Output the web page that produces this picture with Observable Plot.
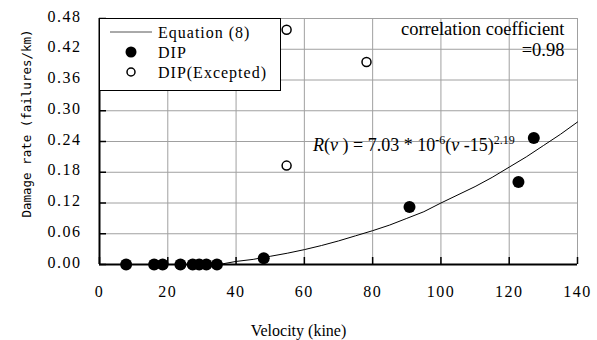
<!DOCTYPE html>
<html><head><meta charset="utf-8">
<script src="https://cdn.jsdelivr.net/npm/d3@7"></script>
<script src="https://cdn.jsdelivr.net/npm/@observablehq/plot@0.6"></script>
<style>
body{margin:0;background:#fff;}
g[aria-label="x-axis tick label"] text, g[aria-label="y-axis tick label"] text {letter-spacing:1.5px;}
</style></head><body><div id="chart"></div>
<script>
const xTicks = [0, 20, 40, 60, 80, 100, 120, 140];
const yTicks = [0, 0.06, 0.12, 0.18, 0.24, 0.30, 0.36, 0.42, 0.48];
const dipV = [7.8, 16.0, 18.5, 23.7, 27.3, 29.2, 31.3, 34.4, 48.1, 90.8, 122.7, 127.2];
const dipR = [0, 0, 0, 0, 0, 0, 0, 0, 0.012, 0.112, 0.161, 0.247];
const excV = [54.8, 54.8, 78.2];
const excR = [0.193, 0.458, 0.395];
const curveV = [35, 40, 45, 50, 55, 60, 65, 70, 75, 80, 85, 90, 95, 100, 105, 110, 115, 120, 125, 130, 135, 140];
const curveR = [0, 0.006, 0.010, 0.016, 0.022, 0.029, 0.037, 0.046, 0.056, 0.066, 0.077, 0.090, 0.103, 0.120, 0.136, 0.152, 0.170, 0.190, 0.210, 0.232, 0.254, 0.278];
const legendLabels = ["Equation (8)", "DIP", "DIP(Excepted)"];
const xLabel = "Velocity (kine)";
const yLabel = "Damage rate (failures/km)";
const corrText = "correlation coefficient\n=0.98";

const dip = dipV.map((v, i) => ({v, r: dipR[i]}));
const exc = excV.map((v, i) => ({v, r: excR[i]}));
const curve = curveV.map((v, i) => ({v, r: curveR[i]}));

const serif = "Liberation Serif";
const mono = "DejaVu Sans Mono";
const gridColor = "#a0a0a0";

const plot = Plot.plot({
  width: 597, height: 340,
  marginLeft: 99, marginRight: 20, marginTop: 18, marginBottom: 76,
  style: {fontFamily: serif, background: "#fff", color: "#000"},
  x: {domain: [0, 140], ticks: xTicks, label: null},
  y: {domain: [0, 0.48], ticks: yTicks, label: null},
  marks: [
    Plot.gridX(xTicks.slice(1, -1), {stroke: gridColor, strokeOpacity: 1}),
    Plot.gridY(yTicks.slice(1, -1), {stroke: gridColor, strokeOpacity: 1}),
    Plot.ruleY([0.48], {stroke: gridColor}),
    Plot.ruleX([140], {stroke: gridColor}),
    Plot.axisX({ticks: xTicks, tickSize: -7, text: null, strokeWidth: 1.5}),
    Plot.axisY({ticks: yTicks, tickSize: -7, text: null, strokeWidth: 1.5}),
    Plot.axisX({ticks: xTicks, tickSize: 0, tickPadding: 21, fontSize: 16, fontFamily: serif, tickFormat: d => d}),
    Plot.axisY({ticks: yTicks, tickSize: 0, tickPadding: 18, fontSize: 16, fontFamily: serif, dy: -2, tickFormat: d3.format(".2f")}),
    Plot.ruleX([0], {stroke: "#000", strokeWidth: 2}),
    Plot.ruleY([0], {stroke: "#000", strokeWidth: 2}),
    Plot.line(curve, {x: "v", y: "r", stroke: "#000", strokeWidth: 1}),
    Plot.dot(exc, {x: "v", y: "r", r: 4.5, fill: "#fff", stroke: "#000", strokeWidth: 1.5}),
    Plot.dot(dip, {x: "v", y: "r", r: 6, fill: "#000", stroke: "none"}),
    Plot.text([corrText], {frameAnchor: "top-right", textAnchor: "end", lineAnchor: "top", dx: -13, dy: 2, fontSize: 18.5, fontFamily: serif, lineHeight: 1.13, fill: "#000"}),
    Plot.text([xLabel], {frameAnchor: "bottom", textAnchor: "middle", lineAnchor: "middle", dx: -40, dy: 66, fontSize: 16, fontFamily: serif, fill: "#000"}),
    Plot.text([yLabel], {frameAnchor: "left", textAnchor: "middle", lineAnchor: "middle", rotate: -90, dx: -73, dy: -18, fontSize: 12.5, fontFamily: mono, fill: "#000"})
  ]
});

const svg = d3.select(plot);
const xs = plot.scale("x"), ys = plot.scale("y");
// equation annotation
const eq = svg.append("text")
  .attr("x", xs.apply(62.7)).attr("y", ys.apply(0.220))
  .attr("text-anchor", "start")
  .attr("font-family", serif).attr("font-size", 18).attr("fill", "#000");
eq.append("tspan").attr("font-style", "italic").text("R");
eq.append("tspan").text("(");
eq.append("tspan").attr("font-style", "italic").text("v");
eq.append("tspan").text(" ) = 7.03 * 10");
eq.append("tspan").attr("dy", -7).attr("font-size", 12).text("-6");
eq.append("tspan").attr("dy", 7).text("(");
eq.append("tspan").attr("font-style", "italic").text("v");
eq.append("tspan").text(" -15)");
eq.append("tspan").attr("dy", -7).attr("font-size", 12).text("2.19");

// legend box
const lx = 99, ly = 18;
const lg = svg.append("g").attr("font-family", serif).attr("font-size", 16)
  .attr("letter-spacing", "1px").attr("text-anchor", "start");
lg.append("rect").attr("x", lx + 0.5).attr("y", ly + 0.5).attr("width", 181).attr("height", 72)
  .attr("fill", "#fff").attr("stroke", "#000").attr("stroke-width", 1);
lg.append("line").attr("x1", lx + 11).attr("x2", lx + 53).attr("y1", ly + 14).attr("y2", ly + 14)
  .attr("stroke", "#555").attr("stroke-width", 1);
lg.append("circle").attr("cx", lx + 32).attr("cy", ly + 34).attr("r", 5.5).attr("fill", "#000");
lg.append("circle").attr("cx", lx + 32).attr("cy", ly + 54).attr("r", 4).attr("fill", "#fff")
  .attr("stroke", "#000").attr("stroke-width", 1.5);
legendLabels.forEach((t, i) => {
  lg.append("text").attr("x", lx + 59).attr("y", ly + 19.5 + i * 20).attr("fill", "#000").text(t);
});

document.getElementById("chart").appendChild(plot);
</script></body></html>
